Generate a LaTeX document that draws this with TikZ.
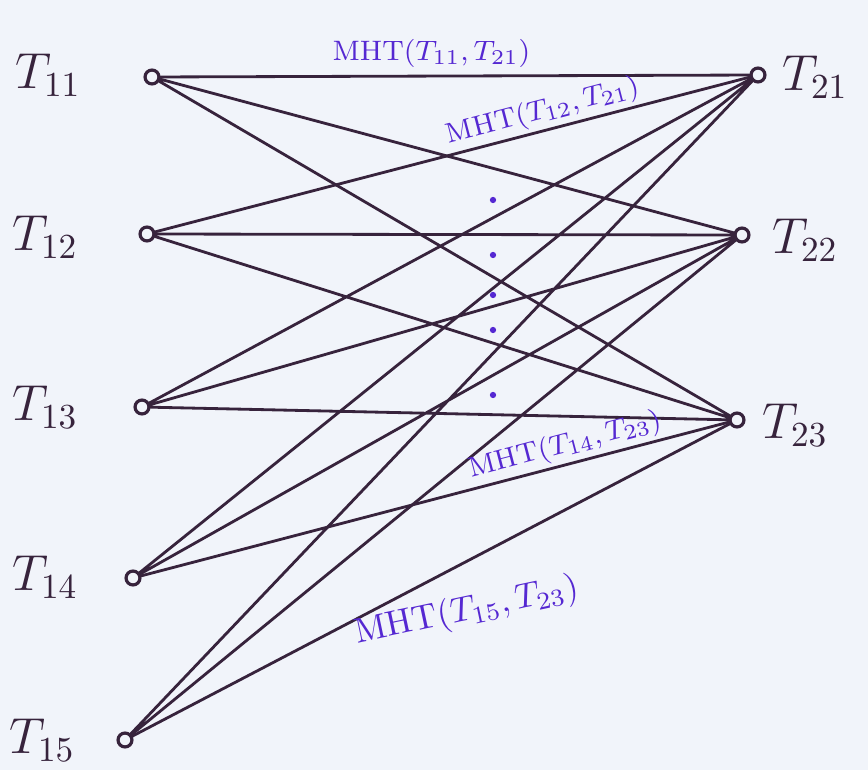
\documentclass[tikz,border=0pt]{standalone}
\usepackage{amsmath,amssymb}
\usetikzlibrary{calc}
\definecolor{ink}{RGB}{55,35,60}
\definecolor{pen}{RGB}{85,40,210}
\definecolor{paper}{RGB}{241,244,250}

\begin{document}
\begin{tikzpicture}[line join=round, line cap=round,
	vtx/.style={circle,draw=ink,fill=paper,line width=0.9pt,inner sep=1.4pt},
	lbl/.style={text=ink,font=\Large},
	mht/.style={text=pen,font=\footnotesize,inner sep=1pt}]
	% Khung
	\fill[paper] (0,0) rectangle (8.68,7.7);
	\useasboundingbox (0,0) rectangle (8.68,7.7);
	% Đỉnh trái
	\node[vtx] (T11) at (1.52,6.93) {};
	\node[vtx] (T12) at (1.47,5.36) {};
	\node[vtx] (T13) at (1.42,3.63) {};
	\node[vtx] (T14) at (1.33,1.92) {};
	\node[vtx] (T15) at (1.25,0.30) {};
	% Đỉnh phải
	\node[vtx] (T21) at (7.58,6.95) {};
	\node[vtx] (T22) at (7.42,5.35) {};
	\node[vtx] (T23) at (7.37,3.50) {};
	% Nhãn
	\node[lbl] (L11) at (0.48,6.95) {$T_{11}$};
	\node[lbl] (L12) at (0.45,5.33) {$T_{12}$};
	\node[lbl] (L13) at (0.45,3.63) {$T_{13}$};
	\node[lbl] (L14) at (0.45,1.93) {$T_{14}$};
	\node[lbl] (L15) at (0.42,0.30) {$T_{15}$};
	\node[lbl] (L21) at (8.15,6.93) {$T_{21}$};
	\node[lbl] (L22) at (8.05,5.30) {$T_{22}$};
	\node[lbl] (L23) at (7.95,3.45) {$T_{23}$};
	% Cạnh
	\draw[ink,line width=0.8pt]
		(T11)--(T22) (T11)--(T23)
		(T12)--(T22) (T12)--(T23)
		(T13)--(T21) (T13)--(T22) (T13)--(T23)
		(T14)--(T21) (T14)--(T22)
		(T15)--(T21) (T15)--(T22);
	\draw[ink,line width=0.8pt](T11)--(T21)node[mht,above,pos=0.46,yshift=1pt]{MHT$(T_{11},T_{21})$};
	\draw[ink,line width=0.8pt](T12)--(T21)node[mht,above,sloped,pos=0.66]{MHT$(T_{12},T_{21})$};
	\draw[ink,line width=0.8pt](T14)--(T23)node[mht,above,sloped,pos=0.73]{MHT$(T_{14},T_{23})$};
	\draw[ink,line width=0.8pt](T15)--(T23)node[mht,font=\normalsize,pos=0.56,yshift=-0.5cm,rotate=12]{MHT$(T_{15},T_{23})$};
	% Dấu chấm
	\foreach \y in {5.70,5.15,4.75,4.40,3.75}
		\fill[pen] (4.93,\y) circle (0.9pt);
\end{tikzpicture}
\end{document}
